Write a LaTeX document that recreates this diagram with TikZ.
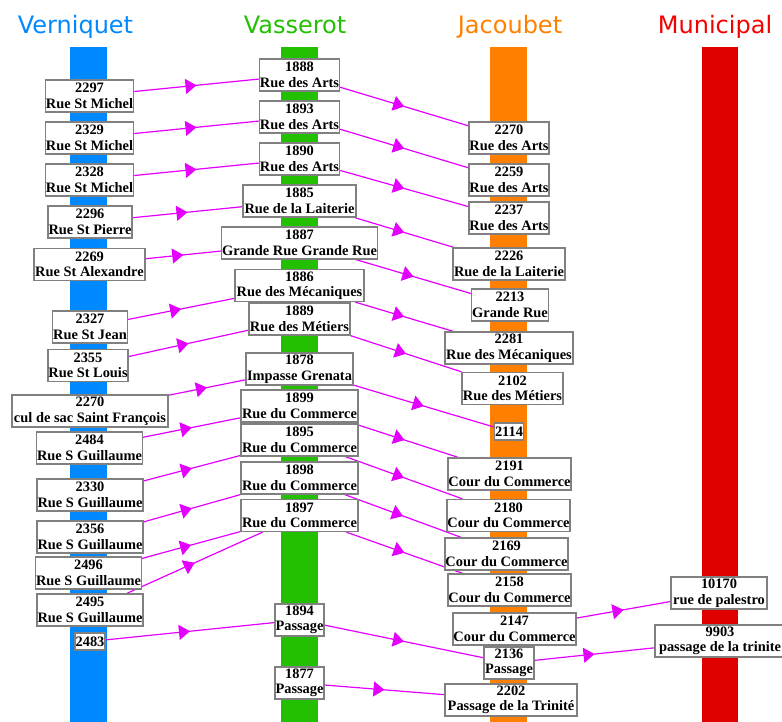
\documentclass[tikz,border=0pt]{standalone}
\usepackage{fontspec}
\setmainfont{Liberation Serif}
\newfontfamily\titlefont{DejaVu Sans}
\usetikzlibrary{arrows.meta,decorations.markings}
\definecolor{cblue}{RGB}{0,136,255}
\definecolor{cgreen}{RGB}{34,192,0}
\definecolor{corange}{RGB}{255,128,0}
\definecolor{cred}{RGB}{224,0,0}
\definecolor{ctred}{RGB}{245,0,0}
\definecolor{clink}{RGB}{228,0,255}
\definecolor{cborder}{RGB}{128,128,128}
\pgfdeclarelayer{bars}
\pgfdeclarelayer{links}
\pgfsetlayers{bars,links,main}
\tikzset{
  box/.style={draw=cborder, line width=1.3pt, fill=white, align=center,
    inner xsep=0.5pt, inner ysep=0pt, minimum height=32pt,
    font=\fontsize{14.4}{15.5}\selectfont\bfseries},
  onebox/.style={box, minimum height=17pt},
  link/.style={color=clink, line width=1.2pt, postaction={decorate},
    decoration={markings, mark=at position 0.5 with {\arrow{Triangle[length=11pt,width=15pt]}}}},
  coltitle/.style={font=\titlefont\fontsize{24}{28}\selectfont, anchor=base},
}
\begin{document}
\begin{tikzpicture}[x=1pt,y=-1pt]
\useasboundingbox (0,0) rectangle (782,722);

% titles
\node[coltitle, text=cblue] (tv) at (75.5,34) {Verniquet};
\node[coltitle, text=cgreen] (ta) at (295,34) {Vasserot};
\node[coltitle, text=corange] (tj) at (510,34) {Jacoubet};
\node[coltitle, text=ctred] (tm) at (715,34) {Municipal};

% bars
\begin{pgfonlayer}{bars}
\fill[cblue] (70,47) rectangle (107,722);
\fill[cgreen] (281,47) rectangle (318,722);
\fill[corange] (490,47) rectangle (527,722);
\fill[cred] (702,47) rectangle (738,722);
\end{pgfonlayer}

% Verniquet
\node[box,minimum width=87pt] (v1) at (89.5,96) {2297\\Rue St Michel};
\node[box,minimum width=87pt] (v2) at (89.5,138) {2329\\Rue St Michel};
\node[box,minimum width=87pt] (v3) at (89.5,180) {2328\\Rue St Michel};
\node[box,minimum width=84pt] (v4) at (90,222) {2296\\Rue St Pierre};
\node[box,minimum width=111pt] (v5) at (89.5,264.5) {2269\\Rue St Alexandre};
\node[box,minimum width=72pt] (v6) at (90,327) {2327\\Rue St Jean};
\node[box,minimum width=78pt] (v7) at (88,365.5) {2355\\Rue St Louis};
\node[box,minimum width=156pt] (v8) at (90,411) {2270\\cul de sac Saint François};
\node[box,minimum width=105pt] (v9) at (89.5,448) {2484\\Rue S Guillaume};
\node[box,minimum width=106pt] (v10) at (90,495) {2330\\Rue S Guillaume};
\node[box,minimum width=106pt] (v11) at (90,537) {2356\\Rue S Guillaume};
\node[box,minimum width=105pt] (v12) at (88.5,573) {2496\\Rue S Guillaume};
\node[box,minimum width=106pt] (v13) at (90,610) {2495\\Rue S Guillaume};
\node[onebox,minimum width=28pt] (v14) at (90,641.5) {2483};

% Vasserot
\node[box,minimum width=79pt] (a1) at (299.5,75) {1888\\Rue des Arts};
\node[box,minimum width=79pt] (a2) at (299.5,117) {1893\\Rue des Arts};
\node[box,minimum width=79pt] (a3) at (299.5,159) {1890\\Rue des Arts};
\node[box,minimum width=113pt] (a4) at (299.5,201) {1885\\Rue de la Laiterie};
\node[box,minimum width=153pt] (a5) at (299.5,243) {1887\\Grande Rue Grande Rue};
\node[box,minimum width=129pt] (a6) at (299.5,285.5) {1886\\Rue des Mécaniques};
\node[box,minimum width=101pt] (a7) at (299.5,319) {1889\\Rue des Métiers};
\node[box,minimum width=107pt] (a8) at (299.5,369) {1878\\Impasse Grenata};
\node[box,minimum width=117pt] (a9) at (299.5,406) {1899\\Rue du Commerce};
\node[box,minimum width=117pt] (a10) at (299.5,440) {1895\\Rue du Commerce};
\node[box,minimum width=117pt] (a11) at (299.5,478) {1898\\Rue du Commerce};
\node[box,minimum width=117pt] (a12) at (299.5,515.5) {1897\\Rue du Commerce};
\node[box,minimum width=49pt] (a13) at (299.5,620) {1894\\Passage};
\node[box,minimum width=49pt] (a14) at (299.5,683) {1877\\Passage};

% Jacoubet
\node[box,minimum width=80pt] (j1) at (509,138) {2270\\Rue des Arts};
\node[box,minimum width=80pt] (j2) at (509,180) {2259\\Rue des Arts};
\node[box,minimum width=80pt] (j3) at (509,218) {2237\\Rue des Arts};
\node[box,minimum width=112pt] (j4) at (509,264) {2226\\Rue de la Laiterie};
\node[box,minimum width=76pt] (j5) at (510,305) {2213\\Grande Rue};
\node[box,minimum width=128pt] (j6) at (509,348) {2281\\Rue des Mécaniques};
\node[box,minimum width=101pt] (j7) at (512.5,388.5) {2102\\Rue des Métiers};
\node[onebox,minimum width=28pt] (j8) at (509,431.5) {2114};
\node[box,minimum width=123pt] (j9) at (509.5,474) {2191\\Cour du Commerce};
\node[box,minimum width=123pt] (j10) at (508.5,515.5) {2180\\Cour du Commerce};
\node[box,minimum width=123pt] (j11) at (506.5,554) {2169\\Cour du Commerce};
\node[box,minimum width=123pt] (j12) at (509.5,590) {2158\\Cour du Commerce};
\node[box,minimum width=123pt] (j13) at (514.5,629) {2147\\Cour du Commerce};
\node[box,minimum width=50pt] (j14) at (509,663) {2136\\Passage};
\node[box,minimum width=132pt] (j15) at (511,700) {2202\\Passage de la Trinité};

% Municipal
\node[box,minimum width=96pt] (m1) at (719,593) {10170\\rue de palestro};
\node[box,minimum width=130pt] (m2) at (720,641) {9903\\passage de la trinite};

% links
\begin{pgfonlayer}{links}
\draw[link] (v1) -- (a1);
\draw[link] (v2) -- (a2);
\draw[link] (v3) -- (a3);
\draw[link] (v4) -- (a4);
\draw[link] (v5) -- (a5);
\draw[link] (v6) -- (a6);
\draw[link] (v7) -- (a7);
\draw[link] (v8) -- (a8);
\draw[link] (v9) -- (a9);
\draw[link] (v10) -- (a10);
\draw[link] (v11) -- (a11);
\draw[link] (v12) -- (a12);
\draw[link] (v13) -- (a12);
\draw[link] (v14) -- (a13);
\draw[link] (a1) -- (j1);
\draw[link] (a2) -- (j2);
\draw[link] (a3) -- (j3);
\draw[link] (a4) -- (j4);
\draw[link] (a5) -- (j5);
\draw[link] (a6) -- (j6);
\draw[link] (a7) -- (j7);
\draw[link] (a8) -- (j8);
\draw[link] (a9) -- (j9);
\draw[link] (a10) -- (j10);
\draw[link] (a11) -- (j11);
\draw[link] (a12) -- (j12);
\draw[link] (a13) -- (j14);
\draw[link] (a14) -- (j15);
\draw[link] (j13) -- (m1);
\draw[link] (j14) -- (m2);
\end{pgfonlayer}
\end{tikzpicture}
\end{document}
